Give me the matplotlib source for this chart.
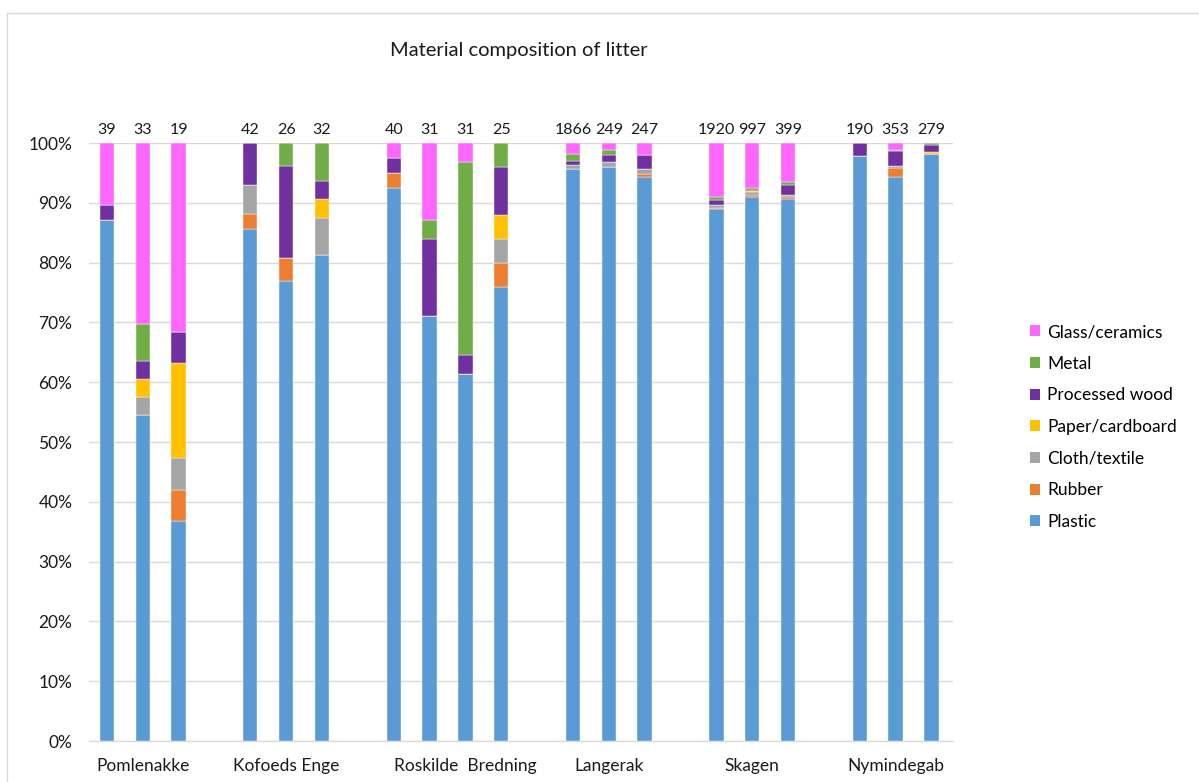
import matplotlib.pyplot as plt
from matplotlib.patches import Patch, Rectangle
import numpy as np

plt.rcParams['font.family'] = ['Lato', 'DejaVu Sans']

# sites and bars (one bar per survey)
sites = ['Pomlenakke', 'Kofoeds Enge', 'Roskilde  Bredning', 'Langerak', 'Skagen', 'Nymindegab']
bars_per_site = [3, 3, 4, 3, 3, 3]
totals = [39, 33, 19, 42, 26, 32, 40, 31, 31, 25, 1866, 249, 247, 1920, 997, 399, 190, 353, 279]

# share of items (%) per material
plastic = [87.2, 54.5, 36.8, 85.7, 76.9, 81.3, 92.5, 71.0, 61.3, 76.0, 95.6, 96.0, 94.3, 89.0, 90.9, 90.7, 97.9, 94.3, 98.2]
rubber  = [0, 0, 5.3, 2.4, 3.8, 0, 2.5, 0, 0, 4.0, 0, 0, 0.4, 0.1, 0.4, 0.3, 0, 1.4, 0]
cloth   = [0, 3.0, 5.3, 4.8, 0, 6.3, 0, 0, 0, 4.0, 0.8, 0.8, 0.8, 0.5, 0.5, 0.3, 0, 0.3, 0]
paper   = [0, 3.0, 15.8, 0, 0, 3.1, 0, 0, 0, 4.0, 0, 0, 0, 0.1, 0.1, 0, 0, 0, 0.4]
wood    = [2.6, 3.0, 5.3, 7.1, 15.4, 3.1, 2.5, 12.9, 3.2, 8.0, 0.6, 1.2, 2.4, 0.7, 0.3, 1.7, 2.1, 2.5, 1.1]
metal   = [0, 6.1, 0, 0, 3.8, 6.3, 0, 3.2, 32.3, 4.0, 1.2, 0.8, 0, 0.6, 0.3, 0.5, 0, 0.3, 0.4]
glass   = [10.3, 30.3, 31.6, 0, 0, 0, 2.5, 12.9, 3.2, 0, 1.8, 1.2, 2.0, 9.0, 7.5, 6.5, 0, 1.1, 0]

materials = ['Plastic', 'Rubber', 'Cloth/textile', 'Paper/cardboard', 'Processed wood', 'Metal', 'Glass/ceramics']
colors = ['#5B9BD5', '#ED7D31', '#A5A5A5', '#FFC000', '#7030A0', '#70AD47', '#FF66FF']
series = [plastic, rubber, cloth, paper, wood, metal, glass]

# x positions: one empty slot between sites
xpos = []
site_ticks = []
slot = 0
for n in bars_per_site:
    grp = list(range(slot, slot + n))
    xpos += grp
    site_ticks.append(grp[n // 2])
    slot += n + 1
xpos = np.array(xpos)

data = np.array(series, dtype=float)
data = data / data.sum(axis=0) * 100

fig = plt.figure(figsize=(11.99, 7.82), dpi=100)
ax = fig.add_axes([0.0742, 0.0524, 0.7206, 0.7647])

bottom = np.zeros(len(xpos))
for vals, col in zip(data, colors):
    ax.bar(xpos, vals, width=0.4, bottom=bottom, color=col, edgecolor='white', linewidth=0.3, zorder=3)
    bottom += vals

for x, t in zip(xpos, totals):
    ax.annotate(str(t), (x, 100), xytext=(0, 4.5), textcoords='offset points',
                ha='center', va='bottom', fontsize=11.5, color='#1a1a1a', annotation_clip=False)

ax.set_xlim(-0.5, xpos[-1] + 0.6)
ax.set_ylim(0, 100)
ax.set_yticks(np.arange(0, 101, 10))
ax.set_yticklabels([f'{v}%' for v in range(0, 101, 10)], fontsize=12.5, color='#1a1a1a')
ax.set_xticks(site_ticks)
ax.set_xticklabels(sites, fontsize=12.5, color='#1a1a1a')
ax.tick_params(length=0)
ax.tick_params(axis='x', pad=12)
ax.tick_params(axis='y', pad=12)
ax.grid(axis='y', color='#D9D9D9', linewidth=1, zorder=0)
for s in ['top', 'right', 'left']:
    ax.spines[s].set_visible(False)
ax.spines['bottom'].set_color('#D9D9D9')

fig.text(0.433, 0.935, 'Material composition of litter', ha='center', va='center', fontsize=14.5, color='#1a1a1a')

handles = [Patch(facecolor=c, label=m) for m, c in zip(materials, colors)][::-1]
fig.legend(handles=handles, loc='center left', bbox_to_anchor=(0.846, 0.454), frameon=False,
           fontsize=12.5, handlelength=0.6, handleheight=0.6, handletextpad=0.4, labelspacing=0.9)

# chart area border
fig.patches.append(Rectangle((7 / 1199, -0.01), 1.0, 1 - 13 / 782 + 0.01, transform=fig.transFigure,
                             fill=False, edgecolor='#D9D9D9', linewidth=1))

fig.savefig('out.png', dpi=100)
